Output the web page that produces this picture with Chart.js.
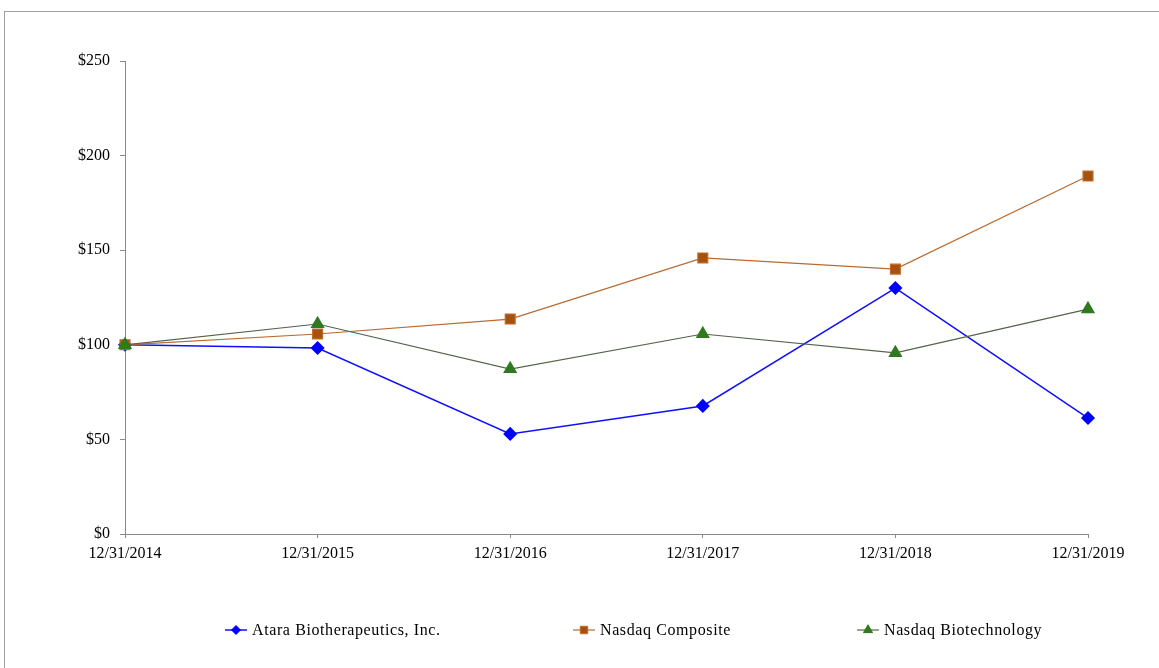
<!DOCTYPE html>
<html>
<head>
<meta charset="utf-8">
<script src="https://cdn.jsdelivr.net/npm/chart.js@4"></script>
<style>
  html, body { margin: 0; padding: 0; background: #fff; }
  #wrap { position: relative; width: 1159px; height: 668px; }
  #frame {
    position: absolute; left: 4px; top: 11px; width: 1200px; height: 700px;
    border-left: 1px solid #a0a0a0; border-top: 1px solid #a0a0a0;
    pointer-events: none;
  }
</style>
</head>
<body>
<div id="wrap">
  <canvas id="perfChart" width="1159" height="668"></canvas>
  <div id="frame"></div>
</div>
<script>
// Categories (year-end dates)
const dates = ['12/31/2014', '12/31/2015', '12/31/2016', '12/31/2017', '12/31/2018', '12/31/2019'];

// Series values (cumulative return on $100)
const ataraValues = [100, 98.3, 52.9, 67.7, 130.0, 61.3];
const nasdaqCompositeValues = [100, 105.7, 113.6, 145.9, 140.0, 189.2];
const nasdaqBiotechValues = [100, 111.0, 87.2, 105.7, 95.7, 118.9];

// Y axis tick values
const yTicks = [0, 50, 100, 150, 200, 250];

const seriesNames = ['Atara Biotherapeutics, Inc.', 'Nasdaq Composite', 'Nasdaq Biotechnology'];

Chart.defaults.font.family = '"Liberation Serif", "Times New Roman", serif';
Chart.defaults.font.size = 16;
Chart.defaults.color = '#000';

// Draws the legend row at the bottom: short line with the marker, then the name
const bottomLegend = {
    id: 'bottomLegend',
    afterDraw(chart) {
        const ctx = chart.ctx;
        const xs = [225, 573, 857];
        const y = 630;
        ctx.save();
        chart.data.datasets.forEach((ds, i) => {
            const x0 = xs[i];
            ctx.strokeStyle = ds.borderColor;
            ctx.lineWidth = ds.borderWidth;
            ctx.beginPath();
            ctx.moveTo(x0, y);
            ctx.lineTo(x0 + 22, y);
            ctx.stroke();
            ctx.fillStyle = ds.pointBackgroundColor;
            ctx.strokeStyle = ds.pointBorderColor;
            ctx.lineWidth = 1;
            Chart.helpers.drawPoint(ctx, {
                pointStyle: ds.pointStyle,
                radius: ds.pointRadius * 0.75,
                rotation: 0,
                borderWidth: 1
            }, x0 + 11, y);
            ctx.fillStyle = '#000';
            ctx.font = '16px "Liberation Serif", "Times New Roman", serif';
            ctx.letterSpacing = '0.6px';
            ctx.textBaseline = 'middle';
            ctx.textAlign = 'left';
            ctx.fillText(ds.label, x0 + 27, y + 1);
        });
        ctx.restore();
    }
};

const ctx = document.getElementById('perfChart').getContext('2d');

window.perfChart = new Chart(ctx, {
    type: 'line',
    data: {
        labels: dates,
        datasets: [{
            label: seriesNames[0],
            data: ataraValues,
            order: 3,
            borderColor: '#1010ff',
            borderWidth: 1.5,
            pointStyle: 'rectRot',
            pointRadius: 6,
            pointBackgroundColor: '#0000ff',
            pointBorderColor: '#0000ff',
            tension: 0
        },
        {
            label: seriesNames[1],
            data: nasdaqCompositeValues,
            order: 2,
            borderColor: '#b86a30',
            borderWidth: 1.2,
            pointStyle: 'rect',
            pointRadius: 7,
            pointBackgroundColor: '#a3520f',
            pointBorderColor: '#c06a2a',
            tension: 0
        },
        {
            label: seriesNames[2],
            data: nasdaqBiotechValues,
            order: 1,
            borderColor: '#55634a',
            borderWidth: 1.2,
            pointStyle: 'triangle',
            pointRadius: 7,
            pointBackgroundColor: '#2f7a1f',
            pointBorderColor: '#2f7a1f',
            tension: 0
        }]
    },
    options: {
        responsive: false,
        animation: false,
        events: [],
        layout: {
            padding: { top: 61, right: 71, bottom: 94, left: 0 }
        },
        scales: {
            x: {
                offset: false,
                border: { color: '#8a8a8a', width: 1 },
                grid: { display: true, drawOnChartArea: false, drawTicks: true, tickLength: 4, color: '#8a8a8a' },
                ticks: { padding: 6, maxRotation: 0, autoSkip: false },
                afterFit(scale) { scale.height = 40; }
            },
            y: {
                min: 0,
                max: 250,
                border: { color: '#8a8a8a', width: 1 },
                grid: { display: true, drawOnChartArea: false, drawTicks: true, tickLength: 5, color: '#8a8a8a' },
                afterBuildTicks(scale) {
                    scale.ticks = yTicks.map(v => ({ value: v }));
                },
                ticks: {
                    padding: 10,
                    callback: (v) => '$' + v
                },
                afterFit(scale) { scale.width = 125; }
            }
        },
        plugins: {
            legend: { display: false },
            tooltip: { enabled: false }
        }
    },
    plugins: [bottomLegend]
});
</script>
</body>
</html>
